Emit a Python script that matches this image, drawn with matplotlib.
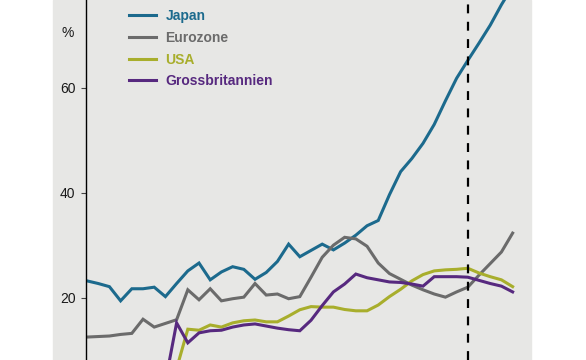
# Staatsverschuldung: Japan, Eurozone, USA, Grossbritannien
import matplotlib
matplotlib.use('Agg')
import matplotlib.pyplot as plt
from matplotlib.patches import Rectangle

plt.rcParams['font.family'] = ['Liberation Sans', 'DejaVu Sans']

years = list(range(1980, 2019))

japan = [23.2, 22.7, 22.1, 19.4, 21.7, 21.7, 22.0, 20.2, 22.7, 25.1,
         26.6, 23.4, 24.9, 25.9, 25.4, 23.5, 24.8, 26.9, 30.2, 27.8,
         29.0, 30.2, 29.1, 30.4, 31.9, 33.7, 34.7, 39.6, 44.0, 46.5,
         49.4, 53.0, 57.5, 61.8, 65.2, 68.5, 71.9, 75.8, 79.3]
eurozone = [12.5, 12.6, 12.7, 13.0, 13.2, 15.9, 14.4, 15.1, 15.8, 21.5,
            19.6, 21.7, 19.4, 19.8, 20.1, 22.7, 20.5, 20.7, 19.8, 20.2,
            23.9, 27.7, 30.0, 31.5, 31.2, 29.8, 26.6, 24.6, 23.5, 22.4,
            21.5, 20.7, 20.1, 21.1, 22.0, 24.3, 26.5, 28.7, 32.3]
usa = [None] * 8 + [6.5, 14.0,
       13.8, 14.8, 14.4, 15.2, 15.6, 15.75, 15.4, 15.4, 16.5, 17.7,
       18.3, 18.2, 18.2, 17.75, 17.5, 17.5, 18.6, 20.2, 21.6, 23.2,
       24.4, 25.1, 25.3, 25.4, 25.6, 24.7, 24.0, 23.4, 22.1]
gb = [None] * 7 + [4.0, 15.2, 11.4,
      13.3, 13.7, 13.8, 14.4, 14.8, 15.0, 14.6, 14.2, 13.9, 13.7,
      15.7, 18.5, 21.1, 22.6, 24.5, 23.8, 23.4, 23.0, 22.9, 22.6,
      22.2, 24.0, 24.0, 24.0, 23.9, 23.3, 22.7, 22.2, 21.1]
marker_year = 2014

names = ['Japan', 'Eurozone', 'USA', 'Grossbritannien']
colors = ['#1c6a8d', '#6b6b6b', '#a8ae2c', '#57297f']
bg = '#e7e7e5'

fig = plt.figure(figsize=(5.86, 3.6), dpi=100)
fig.patches.append(Rectangle((53 / 586, 0), (531 - 53) / 586, 1,
                             transform=fig.transFigure, color=bg, zorder=-5))
ax = fig.add_axes([86 / 586, 0, (531 - 86) / 586, 1])
ax.set_facecolor(bg)
ax.set_zorder(1)

for data, name, c in zip([japan, eurozone, usa, gb], names, colors):
    yy = [float('nan') if v is None else v for v in data]
    ax.plot(years, yy, color=c, lw=2.2, label=name, solid_joinstyle='miter')

ax.axvline(marker_year, color='black', lw=1.6, linestyle=(0, (4.0, 3.8)))

ax.set_xlim(1979.91, 2019.64)
ax.set_ylim(8.13, 76.7)
ax.set_yticks([20, 40, 60])
ax.tick_params(axis='y', direction='out', length=3.5, width=0.8,
               color='#444444', labelsize=10, labelcolor='#1a1a1a', pad=4)
ax.set_xticks([])
for s in ['top', 'right', 'bottom']:
    ax.spines[s].set_visible(False)
ax.spines['left'].set_linewidth(1.0)
ax.spines['left'].set_color('black')

fig.text(68 / 586, 1 - 33 / 360, '%', ha='center', va='center',
         fontsize=10, color='#1a1a1a', zorder=5)

leg = ax.legend(loc='upper left', bbox_to_anchor=(0.0675, 1.009), frameon=False,
                handlelength=2.0, handletextpad=0.65, labelspacing=0.55,
                prop={'weight': 'bold', 'size': 10})
for t, c in zip(leg.get_texts(), colors):
    t.set_color(c)

fig.savefig('out.png', dpi=100, facecolor='white')
